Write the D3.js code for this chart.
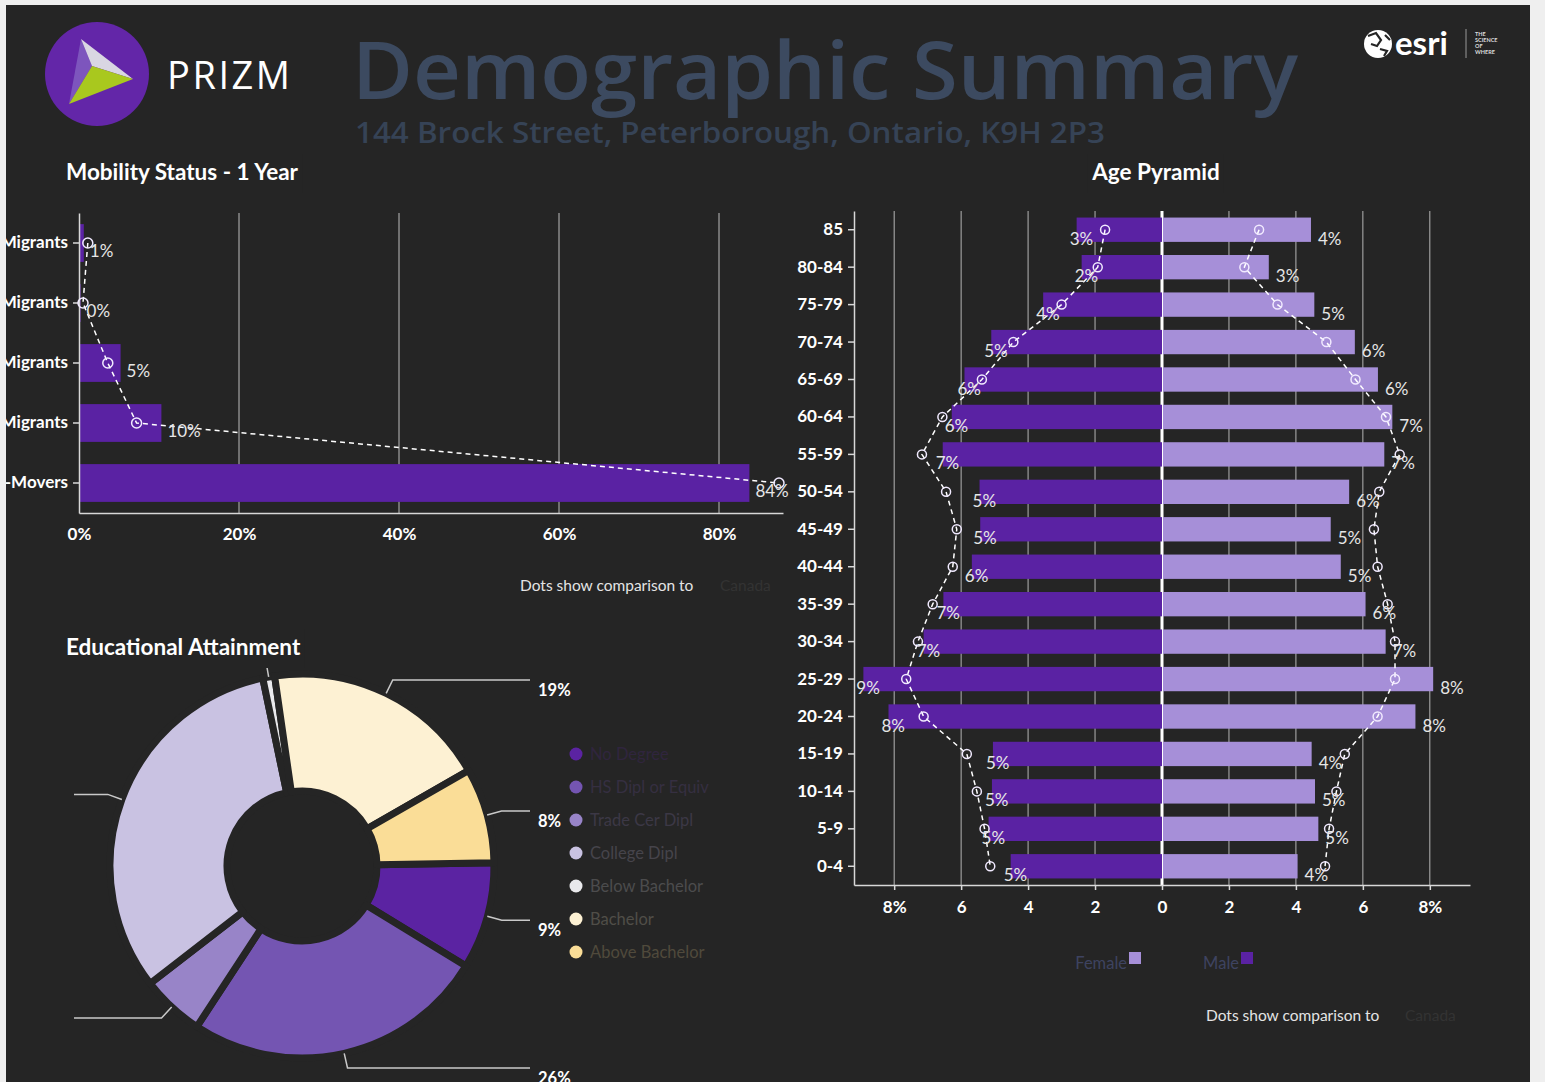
<!DOCTYPE html>
<html>
<head>
<meta charset="utf-8">
<script src="https://cdn.jsdelivr.net/npm/d3@7"></script>
<style>
  body { margin: 0; background: #efefef; }
  svg { display: block; }
  text { font-family: Lato, "Open Sans", sans-serif; }
</style>
</head>
<body>
<script>
// ---- data ----
const mobilityCats = ["External Migrants", "Interprovincial Migrants", "Intraprovincial Migrants", "Non-Migrants", "Non-Movers"];
const mobilityVals = [0.6, 0.2, 5.2, 10.3, 83.8];
const mobilityBench = [1.1, 0.5, 3.6, 7.2, 87.5];
const mobilityTicks = [0, 20, 40, 60, 80];

const ageGroups = ["85", "80-84", "75-79", "70-74", "65-69", "60-64", "55-59", "50-54", "45-49",
    "40-44", "35-39", "30-34", "25-29", "20-24", "15-19", "10-14", "5-9", "0-4"];
const maleVals = [2.55, 2.4, 3.55, 5.1, 5.9, 6.28, 6.55, 5.45, 5.43, 5.68, 6.53, 7.12, 8.92, 8.17, 5.05, 5.08, 5.18, 4.52];
const maleBench = [1.7, 1.92, 3.0, 4.44, 5.38, 6.56, 7.17, 6.45, 6.13, 6.25, 6.85, 7.29, 7.64, 7.12, 5.83, 5.53, 5.3, 5.13];
const femaleVals = [4.45, 3.19, 4.55, 5.76, 6.45, 6.88, 6.64, 5.59, 5.04, 5.34, 6.08, 6.68, 8.1, 7.57, 4.47, 4.57, 4.67, 4.05];
const femaleBench = [2.9, 2.46, 3.45, 4.91, 5.78, 6.69, 7.1, 6.49, 6.33, 6.44, 6.74, 6.96, 6.96, 6.44, 5.46, 5.21, 4.99, 4.87];
const pyramidTicks = [-8, -6, -4, -2, 0, 2, 4, 6, 8];

const eduCats = ["No Degree", "HS Dipl or Equiv", "Trade Cer Dipl", "College Dipl", "Below Bachelor", "Bachelor", "Above Bachelor"];
const eduVals = [9, 25.5, 5.3, 32.2, 1, 19, 8];
const eduColours = ["#5b23a2", "#7455b2", "#9884c8", "#c9c2e2", "#e9e9ec", "#fdf1d3", "#fadd97"];

// ---- page ----
const W = 1545, H = 1082;
const bg = "#252525";
const dark = "#5a22a3";
const light = "#a68fd8";

const svg = d3.select("body").append("svg")
    .attr("width", W)
    .attr("height", H);
svg.append("rect").attr("width", W).attr("height", H).attr("fill", "#efefef");
svg.append("clipPath").attr("id", "panel")
    .append("rect").attr("x", 6).attr("y", 5).attr("width", 1524).attr("height", H - 5);
const root = svg.append("g").attr("clip-path", "url(#panel)");
root.append("rect").attr("x", 6).attr("y", 5).attr("width", 1524).attr("height", H - 5).attr("fill", bg);

// header
root.append("circle").attr("cx", 97).attr("cy", 74).attr("r", 52).attr("fill", "#6326a8");
root.append("path").attr("d", "M81,39L92,66L69,104Z").attr("fill", "#7d55bd");
root.append("path").attr("d", "M81,39L133,79L92,66Z").attr("fill", "#d9d6e2");
root.append("path").attr("d", "M92,66L133,79L69,104Z").attr("fill", "#a9c81e");
root.append("text")
    .attr("x", 167).attr("y", 89)
    .style("font-family", "'Open Sans'")
    .style("font-size", "38px")
    .attr("fill", "#ffffff")
    .attr("textLength", 123)
    .text("PRIZM");
root.append("text")
    .attr("x", 352).attr("y", 99)
    .style("font-family", "'Open Sans'")
    .style("font-size", "80px")
    .style("font-weight", 600)
    .attr("fill", "#3c4a60")
    .attr("textLength", 946)
    .attr("lengthAdjust", "spacingAndGlyphs")
    .text("Demographic Summary");
root.append("text")
    .attr("x", 355).attr("y", 143)
    .style("font-family", "'Open Sans'")
    .style("font-size", "29px")
    .style("font-weight", 600)
    .attr("fill", "#364356")
    .attr("textLength", 750)
    .attr("lengthAdjust", "spacingAndGlyphs")
    .text("144 Brock Street, Peterborough, Ontario, K9H 2P3");

// esri logo
root.append("circle").attr("cx", 1378).attr("cy", 44).attr("r", 14).attr("fill", "#fff");
root.append("path")
    .attr("d", "M1368,36L1376,33L1381,40L1377,46L1371,44M1380,49L1387,51L1384,56M1385,35L1390,40")
    .attr("fill", "none").attr("stroke", bg).attr("stroke-width", 2.2);
root.append("text")
    .attr("x", 1395).attr("y", 55)
    .style("font-size", "33px").style("font-weight", 700)
    .attr("fill", "#fff").text("esri");
root.append("line").attr("x1", 1466).attr("x2", 1466).attr("y1", 29).attr("y2", 58).attr("stroke", "#999");
root.selectAll("text.sow").data(["THE", "SCIENCE", "OF", "WHERE"]).join("text")
    .attr("class", "sow")
    .attr("x", 1475).attr("y", (d, i) => 36 + i * 6)
    .style("font-size", "5.5px").style("font-weight", 700)
    .attr("fill", "#ddd").text(d => d);

const title = (x, y, t, anchor = "start") => {
    const g = root.append("g");
    const txt = g.append("text")
        .attr("x", x).attr("y", y)
        .attr("text-anchor", anchor)
        .style("font-size", "22.5px").style("font-weight", 700)
        .attr("fill", "#fff").text(t);
    const b = txt.node().getBBox();
    g.insert("rect", "text")
        .attr("x", b.x - 4).attr("y", b.y - 4)
        .attr("width", b.width + 8).attr("height", b.height + 12)
        .attr("fill", bg);
    return g;
};

const styleAxis = g => {
    g.select(".domain").attr("stroke", "#d8d8d8").attr("stroke-width", 1.5);
    g.selectAll(".tick line").attr("stroke", "#d8d8d8").attr("stroke-width", 1.5);
    g.selectAll(".tick text")
        .attr("fill", "#fff")
        .style("font-family", "Lato")
        .style("font-size", "17px")
        .style("font-weight", 700);
};

// ---- mobility ----
const mx = d3.scaleLinear().domain([0, 88]).range([79, 783]);
const my = d3.scaleBand().domain(mobilityCats).range([213, 513]).paddingInner(0.37).paddingOuter(0.185);
const mob = root.append("g");
mob.selectAll("line.grid").data(mobilityTicks.slice(1)).join("line")
    .attr("x1", d => mx(d)).attr("x2", d => mx(d))
    .attr("y1", 213).attr("y2", 513)
    .attr("stroke", "#bdbdbd").attr("stroke-width", 1);
mob.selectAll("rect").data(mobilityCats).join("rect")
    .attr("x", mx(0))
    .attr("y", d => my(d))
    .attr("width", (d, i) => mx(mobilityVals[i]) - mx(0))
    .attr("height", my.bandwidth())
    .attr("fill", dark);
mob.append("g")
    .attr("transform", "translate(0,513)")
    .call(d3.axisBottom(mx).tickValues(mobilityTicks).tickFormat(d => d + "%").tickSize(0).tickPadding(15))
    .call(styleAxis);
mob.append("g")
    .attr("transform", `translate(${mx(0)},0)`)
    .call(d3.axisLeft(my).tickSizeInner(6).tickSizeOuter(0).tickPadding(5))
    .call(styleAxis);
const mcy = c => my(c) + my.bandwidth() / 2;
mob.append("path")
    .datum(mobilityCats)
    .attr("d", d3.line().x((d, i) => mx(mobilityBench[i])).y(d => mcy(d)))
    .attr("fill", "none").attr("stroke", "#fff").attr("stroke-width", 1.5).attr("stroke-dasharray", "5,4");
mob.selectAll("circle").data(mobilityCats).join("circle")
    .attr("cx", (d, i) => mx(mobilityBench[i])).attr("cy", d => mcy(d)).attr("r", 5)
    .attr("fill", "none").attr("stroke", "#f1eaff").attr("stroke-width", 1.5);
mob.selectAll("text.val").data(mobilityCats).join("text")
    .attr("class", "val")
    .attr("x", (d, i) => mx(mobilityVals[i]) + 6)
    .attr("y", d => mcy(d) + 14)
    .style("font-size", "17px").attr("fill", "#e6e6e6")
    .text((d, i) => Math.round(mobilityVals[i]) + "%");
title(66, 180, "Mobility Status - 1 Year");
root.append("text").attr("x", 520).attr("y", 591).style("font-size", "15.5px").attr("fill", "#e4e4e4").text("Dots show comparison to");
root.append("text").attr("x", 720).attr("y", 591).style("font-size", "15.5px").attr("fill", "#333").text("Canada");

// ---- age pyramid ----
title(1156, 180, "Age Pyramid", "middle");
const px = d3.scaleLinear().domain([-9.2, 9.2]).range([854, 1470]);
const py = d3.scaleBand().domain(ageGroups).range([211, 885]).paddingInner(0.35).paddingOuter(0.175);
const pcy = c => py(c) + py.bandwidth() / 2;
const pyr = root.append("g");
pyr.selectAll("line.grid").data(pyramidTicks.filter(d => d !== 0)).join("line")
    .attr("x1", d => px(d)).attr("x2", d => px(d))
    .attr("y1", 211).attr("y2", 885)
    .attr("stroke", "#b5b5b5").attr("stroke-width", 1);
pyr.append("line")
    .attr("x1", px(0)).attr("x2", px(0)).attr("y1", 211).attr("y2", 885)
    .attr("stroke", "#fff").attr("stroke-width", 3);
pyr.selectAll("rect.male").data(ageGroups).join("rect")
    .attr("class", "male")
    .attr("x", (d, i) => px(-maleVals[i]))
    .attr("y", d => py(d))
    .attr("width", (d, i) => px(0) - px(-maleVals[i]))
    .attr("height", py.bandwidth())
    .attr("fill", dark);
pyr.selectAll("rect.female").data(ageGroups).join("rect")
    .attr("class", "female")
    .attr("x", px(0) + 1)
    .attr("y", d => py(d))
    .attr("width", (d, i) => px(femaleVals[i]) - px(0) - 1)
    .attr("height", py.bandwidth())
    .attr("fill", light);
pyr.append("g")
    .attr("transform", "translate(0,885)")
    .call(d3.axisBottom(px).tickValues(pyramidTicks)
        .tickFormat(d => Math.abs(d) === 8 ? "8%" : Math.abs(d))
        .tickSizeInner(5).tickSizeOuter(0).tickPadding(11))
    .call(styleAxis);
pyr.append("g")
    .attr("transform", `translate(${px.range()[0]},0)`)
    .call(d3.axisLeft(py).tickSizeInner(6).tickSizeOuter(0).tickPadding(5))
    .call(styleAxis);

const side = (vals, bench, sign, dx) => {
    pyr.append("path")
        .datum(ageGroups)
        .attr("d", d3.line().x((d, i) => px(sign * bench[i])).y(d => pcy(d)))
        .attr("fill", "none").attr("stroke", "#fff").attr("stroke-width", 1.5).attr("stroke-dasharray", "5,4");
    pyr.append("g").selectAll("circle").data(ageGroups).join("circle")
        .attr("cx", (d, i) => px(sign * bench[i])).attr("cy", d => pcy(d)).attr("r", 4.5)
        .attr("fill", "none").attr("stroke", "#f1eaff").attr("stroke-width", 1.5);
    pyr.append("g").selectAll("text").data(ageGroups).join("text")
        .attr("x", (d, i) => px(sign * vals[i]) + dx)
        .attr("y", d => pcy(d) + 15)
        .style("font-size", "17px").attr("fill", "#e6e6e6")
        .text((d, i) => Math.round(vals[i]) + "%");
};
side(maleVals, maleBench, -1, -7);
side(femaleVals, femaleBench, 1, 7);

// legend
const pyrLegend = [["Female", light, 1129], ["Male", dark, 1241]];
root.selectAll("text.pl").data(pyrLegend).join("text")
    .attr("class", "pl")
    .attr("x", d => d[2] - 2).attr("y", 969)
    .attr("text-anchor", "end")
    .style("font-size", "16.5px").attr("fill", "#3e4360")
    .text(d => d[0]);
root.selectAll("rect.pl").data(pyrLegend).join("rect")
    .attr("class", "pl")
    .attr("x", d => d[2]).attr("y", 952).attr("width", 12).attr("height", 12)
    .attr("fill", d => d[1]);
root.append("text").attr("x", 1206).attr("y", 1021).style("font-size", "15.5px").attr("fill", "#e4e4e4").text("Dots show comparison to");
root.append("text").attr("x", 1405).attr("y", 1021).style("font-size", "15.5px").attr("fill", "#333").text("Canada");

// ---- educational attainment ----
const cx = 302, cy = 866, R = 192, r0 = 75;
const start = 89 * Math.PI / 180;
const pie = d3.pie().sort(null).startAngle(start).endAngle(start + 2 * Math.PI);
const arcs = pie(eduVals);
const arc = d3.arc().innerRadius(r0).outerRadius(R);
const arcEdge = d3.arc().innerRadius(R).outerRadius(R);
const arcOut = d3.arc().innerRadius(207).outerRadius(207);
const donut = root.append("g").attr("transform", `translate(${cx},${cy})`);
donut.selectAll("path").data(arcs).join("path")
    .attr("d", arc)
    .attr("fill", (d, i) => eduColours[i])
    .attr("stroke", bg).attr("stroke-width", 7).attr("stroke-linejoin", "round");
donut.selectAll("polyline").data(arcs).join("polyline")
    .attr("points", d => {
        const a = arcEdge.centroid(d), b = arcOut.centroid(d);
        const mid = (d.startAngle + d.endAngle) / 2;
        const s = Math.sin(mid) > 0 ? 1 : -1;
        return [a, b, [s * 228, b[1]]].map(p => p.join(",")).join(" ");
    })
    .attr("fill", "none").attr("stroke", "#c9c9c9").attr("stroke-width", 1.5);
donut.selectAll("text").data(arcs.filter(d => Math.sin((d.startAngle + d.endAngle) / 2) > 0)).join("text")
    .attr("x", 236)
    .attr("y", d => arcOut.centroid(d)[1] + 16)
    .style("font-size", "16.5px").style("font-weight", 700)
    .attr("fill", "#fff")
    .text(d => Math.round(d.data) + "%");
title(66, 655, "Educational Attainment");

const leg = root.append("g");
leg.selectAll("circle").data(eduCats).join("circle")
    .attr("cx", 576).attr("cy", (d, i) => 754 + i * 33)
    .attr("r", 6.5).attr("fill", (d, i) => eduColours[i]);
leg.selectAll("text").data(eduCats).join("text")
    .attr("x", 590).attr("y", (d, i) => 760 + i * 33)
    .style("font-size", "16.5px")
    .attr("fill", (d, i) => d3.interpolateRgb(bg, eduColours[i])(0.2))
    .text(d => d);
</script>
</body>
</html>
